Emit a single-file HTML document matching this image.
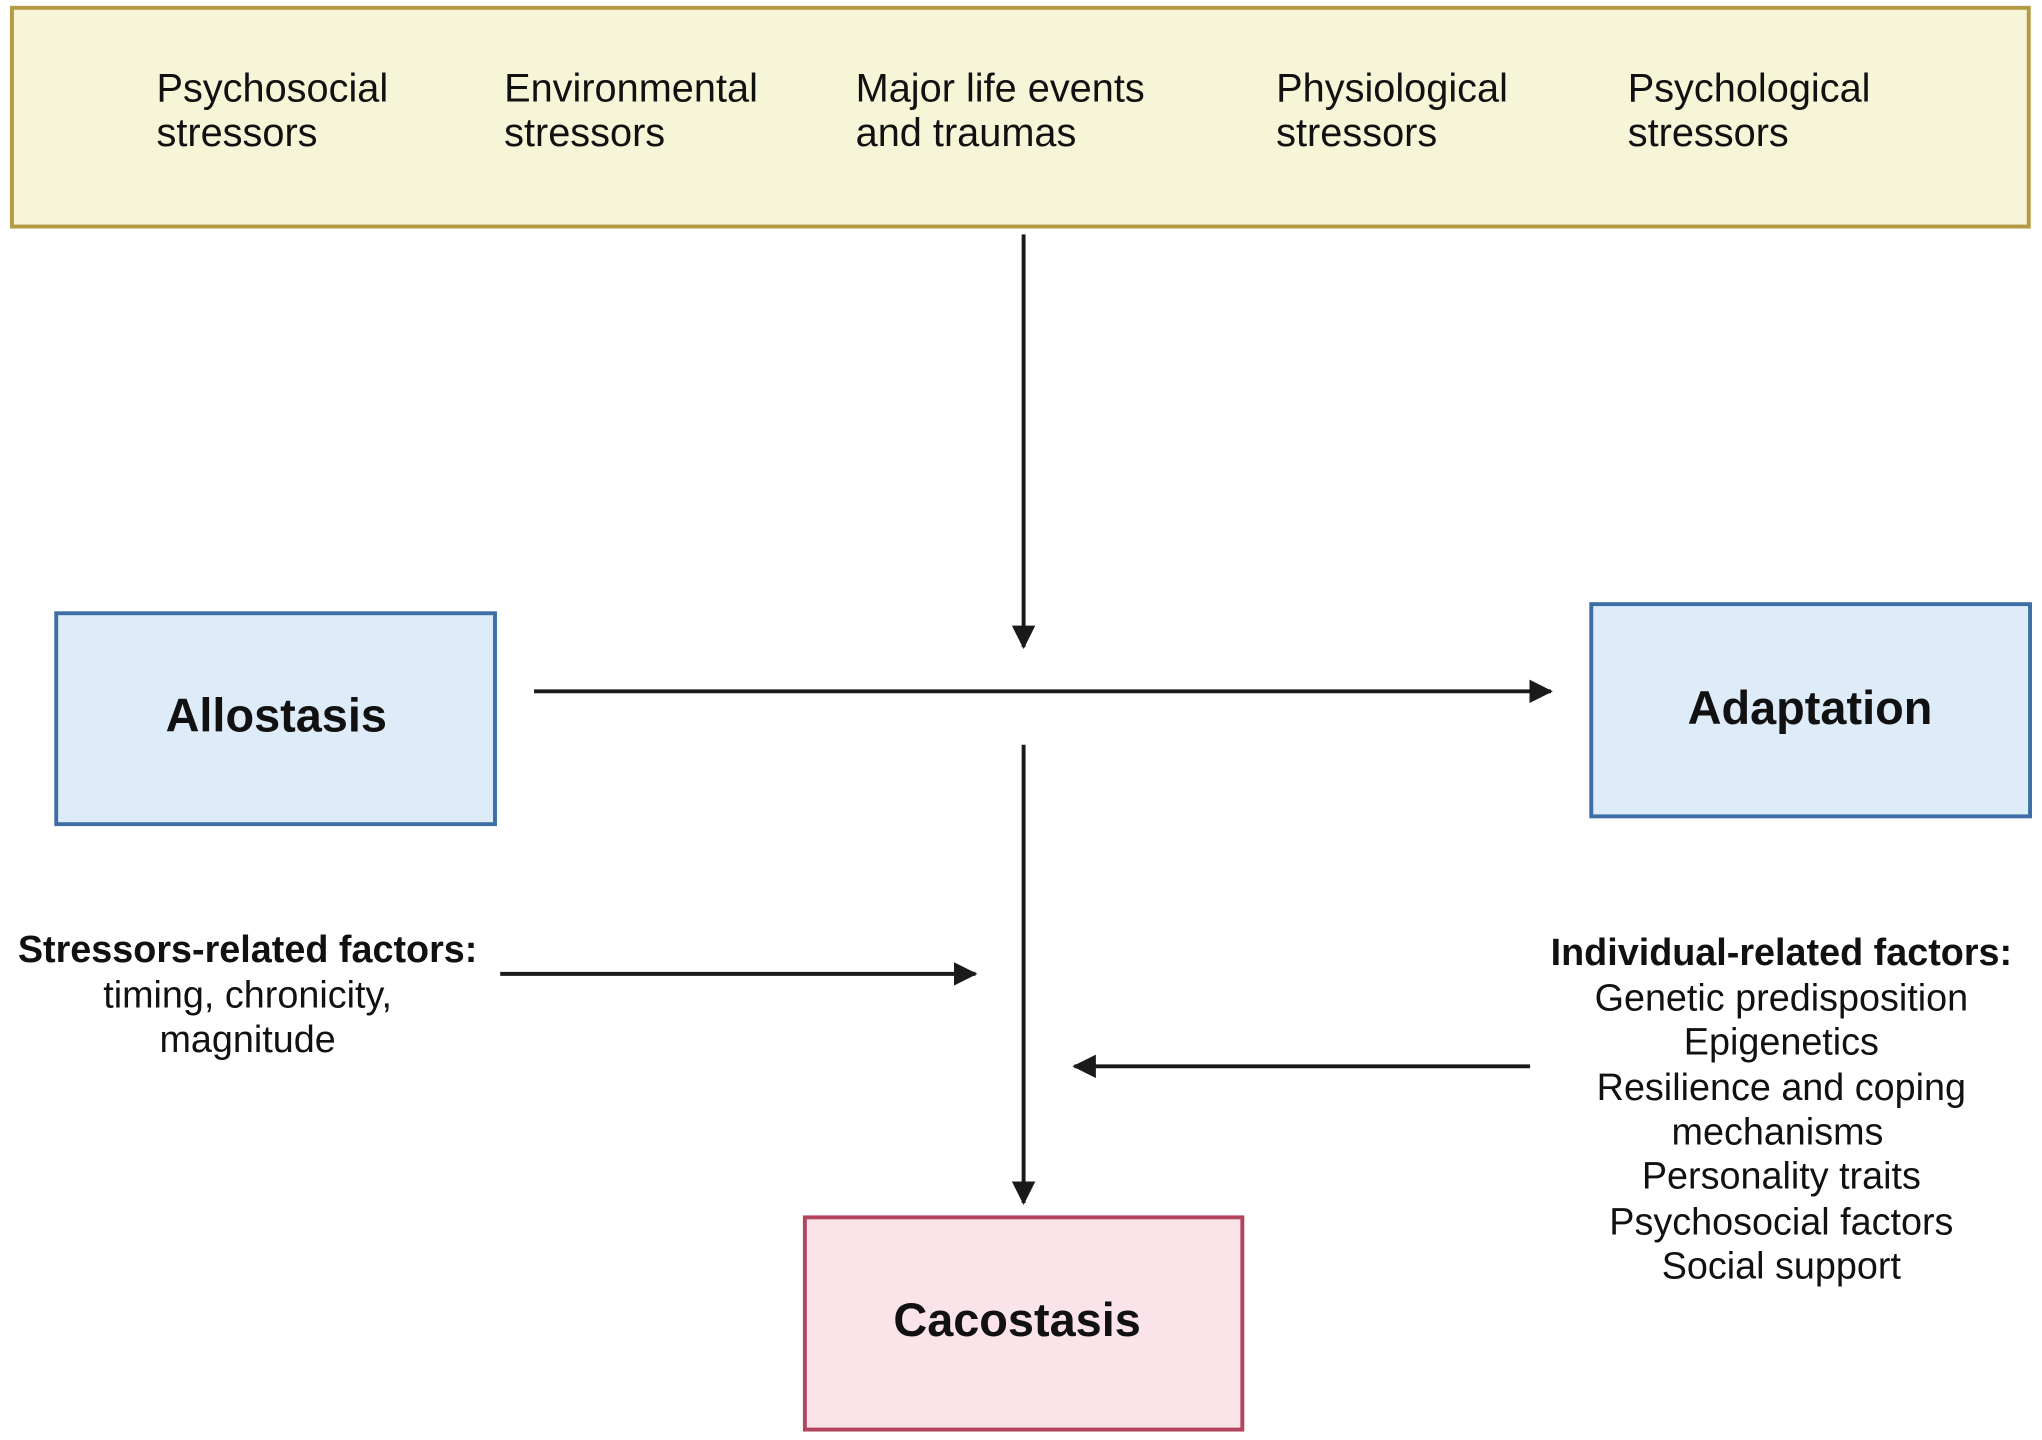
<!DOCTYPE html>
<html><head><meta charset="utf-8"><style>html,body{margin:0;padding:0;background:#fff}svg{display:block}</style></head>
<body>
<svg width="2042" height="1440" viewBox="0 0 1568 1106" xmlns="http://www.w3.org/2000/svg" font-family="'Liberation Sans', sans-serif">
<defs><marker id="a" markerWidth="6" markerHeight="6" refX="5.5" refY="3" orient="auto" markerUnits="strokeWidth"><path d="M0,0 L6,3 L0,6 Z" fill="#1a1a1a"/></marker></defs>
<rect x="9" y="6" width="1549" height="168" fill="#f6f5d7" stroke="#b49a45" stroke-width="3"/>
<g font-size="30.5" fill="#111">
<text x="120" y="78">Psychosocial</text><text x="120" y="112">stressors</text>
<text x="387" y="78">Environmental</text><text x="387" y="112">stressors</text>
<text x="657" y="78">Major life events</text><text x="657" y="112">and traumas</text>
<text x="980" y="78">Physiological</text><text x="980" y="112">stressors</text>
<text x="1250" y="78">Psychological</text><text x="1250" y="112">stressors</text>
</g>
<g stroke="#1a1a1a" stroke-width="3" marker-end="url(#a)">
<line x1="786" y1="180" x2="786" y2="497"/>
<line x1="410" y1="531" x2="1191" y2="531"/>
<line x1="786" y1="572" x2="786" y2="924"/>
<line x1="384" y1="748" x2="749" y2="748"/>
<line x1="1175" y1="819" x2="825" y2="819"/>
</g>
<rect x="43" y="471" width="337" height="162" fill="#deebf8" stroke="#3d6fa6" stroke-width="3"/>
<rect x="1222" y="464" width="337" height="163" fill="#deebf8" stroke="#3d6fa6" stroke-width="3"/>
<rect x="618" y="935" width="336" height="163" fill="#fbe3ea" stroke="#b3445e" stroke-width="3"/>
<g font-size="36" font-weight="bold" text-anchor="middle" fill="#111">
<text x="212" y="562">Allostasis</text>
<text x="1390" y="556">Adaptation</text>
<text x="781" y="1026">Cacostasis</text>
</g>
<g font-size="29" text-anchor="middle" fill="#111">
<text x="190" y="739" font-weight="bold">Stressors-related factors:</text>
<text x="190" y="774">timing, chronicity,</text>
<text x="190" y="808">magnitude</text>
<text x="1368" y="741" font-weight="bold">Individual-related factors:</text>
<text x="1368" y="776">Genetic predisposition</text>
<text x="1368" y="810">Epigenetics</text>
<text x="1368" y="845">Resilience and coping</text>
<text x="1365" y="879">mechanisms</text>
<text x="1368" y="913">Personality traits</text>
<text x="1368" y="948">Psychosocial factors</text>
<text x="1368" y="982">Social support</text>
</g>
</svg>
</body></html>
